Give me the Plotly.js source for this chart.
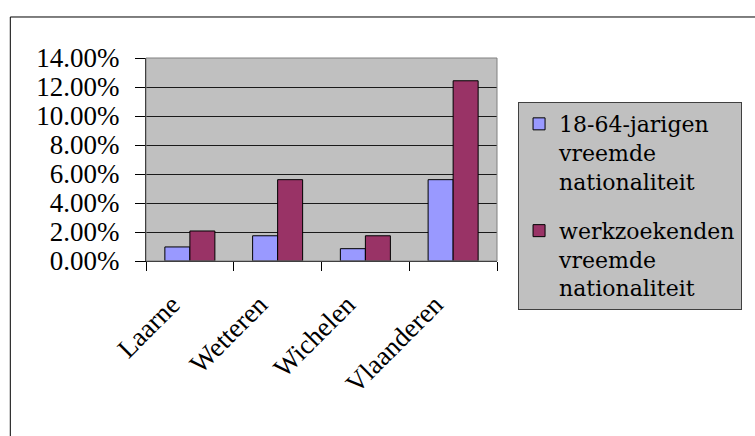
<!DOCTYPE html>
<html>
<head>
<meta charset="utf-8">
<script src="https://cdn.plot.ly/plotly-3.0.1.min.js"></script>
<style>
html,body{margin:0;padding:0;background:#fff;}
#chart{width:755px;height:436px;}
</style>
</head>
<body>
<div id="chart"></div>
<script>
const categories = ["Laarne", "Wetteren", "Wichelen", "Vlaanderen"];
const seriesNames = ["18-64-jarigen<br>vreemde<br>nationaliteit", "werkzoekenden<br>vreemde<br>nationaliteit"];
const series1864 = [0.0097, 0.0174, 0.0085, 0.0561];
const seriesWerkzoekenden = [0.0207, 0.0561, 0.0174, 0.1243];
const yTickVals = [0, 0.02, 0.04, 0.06, 0.08, 0.10, 0.12, 0.14];

const FONT = "Liberation Serif";

const traces = [
  {type: "bar", name: seriesNames[0], x: categories, y: series1864, legendgroup: "a",
   marker: {color: "#9999FF", line: {color: "#000", width: 1}}},
  {type: "bar", name: seriesNames[1], x: categories, y: seriesWerkzoekenden, legendgroup: "b",
   marker: {color: "#993366", line: {color: "#000", width: 1}}}
];

const layout = {
  width: 755, height: 436,
  margin: {l: 145.5, r: 258, t: 58, b: 175},
  paper_bgcolor: "#fff",
  plot_bgcolor: "#C0C0C0",
  font: {family: FONT, size: 27, color: "#000"},
  barmode: "group",
  bargap: 0.43,
  bargroupgap: 0,
  showlegend: true,
  legend: {
    x: 1.06, xanchor: "left", y: 0.783, yanchor: "top",
    bgcolor: "#C0C0C0", bordercolor: "#404040", borderwidth: 1,
    font: {family: "DejaVu Serif", size: 22, color: "#000"},
    valign: "top", tracegroupgap: 18,
    entrywidth: 190, entrywidthmode: "pixels",
    maxheight: 420
  },
  xaxis: {
    type: "category",
    tickangle: -45,
    ticks: "outside", ticklen: 9, tickcolor: "#000", tickwidth: 1,
    tickson: "boundaries",
    showline: true, linecolor: "#000", linewidth: 1,
    showgrid: false, zeroline: false,
    ticklabelstandoff: 16,
    ticklabelshift: -18,
    tickfont: {family: FONT, size: 27, color: "#000"},
    fixedrange: true
  },
  yaxis: {
    range: [0, 0.14],
    tickvals: yTickVals,
    tickformat: ".2%",
    ticks: "outside", ticklen: 10, tickcolor: "#000", tickwidth: 1,
    showline: true, linecolor: "#000", linewidth: 1,
    showgrid: true, gridcolor: "#1a1a1a", gridwidth: 1,
    zeroline: false,
    ticklabelstandoff: 10,
    tickfont: {family: "Times New Roman", size: 27, color: "#000"},
    fixedrange: true
  },
  shapes: [
    {type: "rect", xref: "paper", yref: "paper", x0: 0, x1: 1, y0: 0, y1: 1,
     line: {color: "#808080", width: 1}, layer: "above"},
    {type: "rect", xref: "paper", yref: "paper", x0: -0.3866, x1: 2, y0: -2, y1: 1.202,
     line: {color: "#000", width: 1}, layer: "below"}
  ]
};

Plotly.newPlot("chart", traces, layout, {displayModeBar: false, staticPlot: true});
</script>
</body>
</html>
